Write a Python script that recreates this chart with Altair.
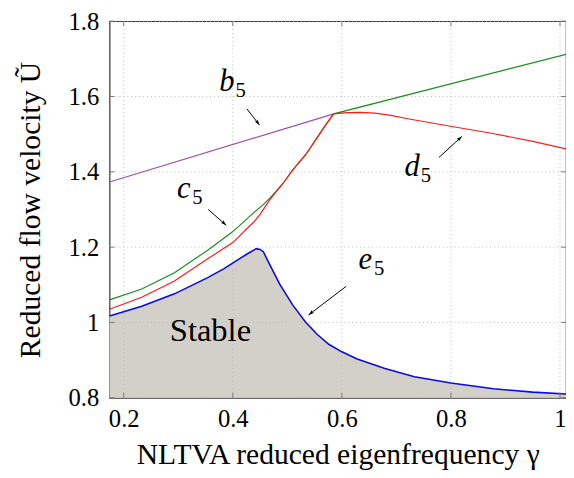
import altair as alt
import pandas as pd

# ---------------- data ----------------
b5_x = [0.174, 0.585]
b5_y = [1.373, 1.554]

green_x = [0.174, 0.233, 0.293, 0.354, 0.399, 0.438, 0.456, 0.471, 0.492, 0.510,
           0.534, 0.552, 0.570, 0.585, 1.011]
green_y = [1.060, 1.089, 1.132, 1.192, 1.240, 1.291, 1.313, 1.335, 1.369, 1.405,
           1.446, 1.485, 1.524, 1.554, 1.712]

red_x = [0.174, 0.233, 0.293, 0.354, 0.400, 0.438, 0.450, 0.468, 0.492, 0.510,
         0.534, 0.552, 0.570, 0.585, 0.610, 0.634, 0.661, 0.690, 0.721, 0.760,
         0.799, 0.872, 0.950, 1.011]
red_y = [1.035, 1.067, 1.110, 1.169, 1.212, 1.266, 1.287, 1.326, 1.369, 1.405,
         1.446, 1.485, 1.524, 1.554, 1.557, 1.558, 1.556, 1.550, 1.541, 1.531,
         1.521, 1.503, 1.481, 1.461]

blue_x = [0.174, 0.233, 0.293, 0.354, 0.384, 0.414, 0.430, 0.443, 0.450, 0.456,
          0.468, 0.486, 0.510, 0.534, 0.555, 0.576, 0.600, 0.628, 0.679, 0.733,
          0.800, 0.878, 0.950, 1.011]
blue_y = [1.017, 1.043, 1.076, 1.119, 1.143, 1.171, 1.185, 1.196, 1.194, 1.188,
          1.153, 1.102, 1.046, 1.000, 0.968, 0.942, 0.922, 0.903, 0.878, 0.856,
          0.839, 0.824, 0.815, 0.810]

x_ticks = [0.2, 0.4, 0.6, 0.8, 1.0]
y_ticks = [0.8, 1.0, 1.2, 1.4, 1.6, 1.8]

label_letters = ["b", "c", "d", "e"]
label_x = [0.389, 0.310, 0.729, 0.643]
label_y = [1.6146, 1.330, 1.390, 1.141]

arrow_x = [0.426, 0.355, 0.778, 0.608]
arrow_y = [1.567, 1.300, 1.438, 1.096]
arrow_x2 = [0.449, 0.388, 0.820, 0.539]
arrow_y2 = [1.524, 1.258, 1.494, 1.020]
arrow_angle = [142.7, 131.2, 47.2, 232.4]

stable_x = [0.359]
stable_y = [0.978]

# ---------------- layout ----------------
W, H = 463, 382
SERIF = "Liberation Serif"
XDOM = [0.174, 1.011]
YDOM = [0.8, 1.8]

xs = alt.Scale(domain=XDOM, nice=False, zero=False)
ys = alt.Scale(domain=YDOM, nice=False, zero=False)

df_b5 = pd.DataFrame({"x": b5_x, "y": b5_y})
df_g = pd.DataFrame({"x": green_x, "y": green_y})
df_r = pd.DataFrame({"x": red_x, "y": red_y})
df_bl = pd.DataFrame({"x": blue_x, "y": blue_y})
df_xt = pd.DataFrame({"v": x_ticks})
df_yt = pd.DataFrame({"v": y_ticks})
df_lab = pd.DataFrame({"x": label_x, "y": label_y, "t": label_letters})
df_arr = pd.DataFrame({"x": arrow_x, "y": arrow_y, "x2": arrow_x2, "y2": arrow_y2,
                       "a": arrow_angle})
df_st = pd.DataFrame({"x": stable_x, "y": stable_y})

X = alt.X("x:Q", scale=xs,
          axis=alt.Axis(values=x_ticks, format="~g", grid=False, ticks=False,
                        domain=False, labelFont=SERIF, labelFontSize=25,
                        labelPadding=9, labelColor="#000", labelFlush=False,
                        title="NLTVA reduced eigenfrequency γ",
                        titleFont=SERIF, titleFontSize=30, titleFontWeight="normal",
                        titleColor="#000", titleY=58, titleBaseline="middle"))
Y = alt.Y("y:Q", scale=ys,
          axis=alt.Axis(values=y_ticks, format="~g", grid=False, ticks=False,
                        domain=False, labelFont=SERIF, labelFontSize=25,
                        labelPadding=11, labelColor="#000",
                        title="Reduced flow velocity Ũ",
                        titleFont=SERIF, titleFontSize=30, titleFontWeight="normal",
                        titleColor="#000", titleX=-80, titleY=191,
                        titleAngle=270, titleBaseline="middle", titleAlign="center"))

area = alt.Chart(df_bl).mark_area(color="#d3cfc9", opacity=1).encode(
    x=X, y=Y, y2=alt.datum(0.8))

grid_x = alt.Chart(df_xt).mark_rule(color="#bcbcbc", strokeDash=[1, 3], strokeWidth=1).encode(
    x=alt.X("v:Q", scale=xs))
grid_y = alt.Chart(df_yt).mark_rule(color="#bcbcbc", strokeDash=[1, 3], strokeWidth=1).encode(
    y=alt.Y("v:Q", scale=ys))

line_b5 = alt.Chart(df_b5).mark_line(color="#9c4fb0", strokeWidth=1.2).encode(x="x:Q", y="y:Q")
line_g = alt.Chart(df_g).mark_line(color="#1e8a1e", strokeWidth=1.2).encode(x="x:Q", y="y:Q")
line_r = alt.Chart(df_r).mark_line(color="#ff1a1a", strokeWidth=1.2).encode(x="x:Q", y="y:Q")
line_bl = alt.Chart(df_bl).mark_line(color="#0a0ae6", strokeWidth=1.6).encode(x="x:Q", y="y:Q")

tk = "#7a7a7a"
tick_b = alt.Chart(df_xt).mark_rule(color=tk).encode(
    x=alt.X("v:Q", scale=xs), y=alt.value(H - 5), y2=alt.value(H))
tick_t = alt.Chart(df_xt).mark_rule(color=tk).encode(
    x=alt.X("v:Q", scale=xs), y=alt.value(0), y2=alt.value(5))
tick_l = alt.Chart(df_yt).mark_rule(color=tk).encode(
    y=alt.Y("v:Q", scale=ys), x=alt.value(0), x2=alt.value(5))
tick_r = alt.Chart(df_yt).mark_rule(color=tk).encode(
    y=alt.Y("v:Q", scale=ys), x=alt.value(W - 5), x2=alt.value(W))

letters = alt.Chart(df_lab).mark_text(font=SERIF, fontSize=31, fontStyle="italic",
                                      align="center", baseline="alphabetic",
                                      color="#000").encode(x="x:Q", y="y:Q", text="t:N")
subs = alt.Chart(df_lab).mark_text(font=SERIF, fontSize=21, align="center",
                                   baseline="alphabetic", dx=14, dy=6,
                                   color="#000").encode(x="x:Q", y="y:Q", text=alt.value("5"))

arr_line = alt.Chart(df_arr).mark_rule(color="#000", strokeWidth=1).encode(
    x="x:Q", y="y:Q", x2="x2:Q", y2="y2:Q")
arr_head = alt.Chart(df_arr).mark_point(
    shape="M0,0L0.55,1.7L0,1.25L-0.55,1.7Z", filled=True, size=49,
    color="#000", opacity=1).encode(
    x="x2:Q", y="y2:Q", angle=alt.Angle("a:Q", scale=None))

stable = alt.Chart(df_st).mark_text(font=SERIF, fontSize=33, align="center",
                                    baseline="middle", color="#000").encode(
    x="x:Q", y="y:Q", text=alt.value("Stable"))

chart = alt.layer(
    area, grid_x, grid_y, line_b5, line_g, line_r, line_bl,
    tick_b, tick_t, tick_l, tick_r,
    arr_line, arr_head, letters, subs, stable
).properties(
    width=W, height=H,
    autosize=alt.AutoSizeParams(type="none"),
    padding={"left": 103, "top": 10, "right": 0, "bottom": 78},
    background="white",
).configure_view(stroke="#333", strokeWidth=1.2)

chart.save("out.html", embed_options={"renderer": "svg", "actions": False})
